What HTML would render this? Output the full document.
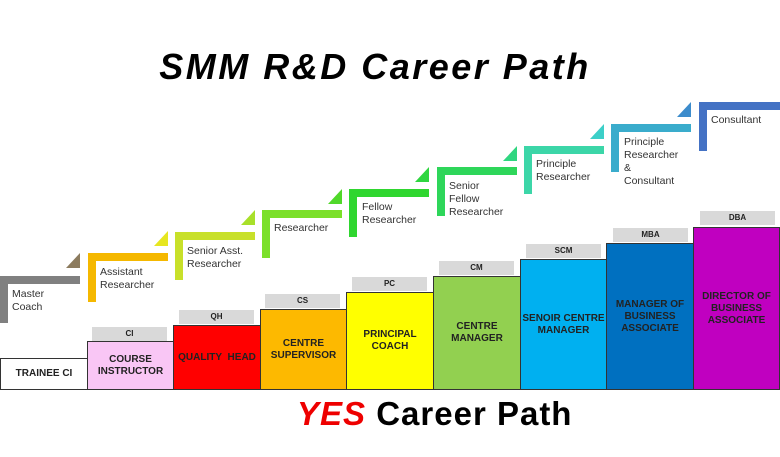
<!DOCTYPE html>
<html><head><style>
body{margin:0;width:780px;height:457px;background:#fff;position:relative;overflow:hidden;font-family:"Liberation Sans",sans-serif}
.a{position:absolute}
.bar{position:absolute;bottom:67px;border:1px solid #333;box-sizing:border-box;display:flex;align-items:center;justify-content:center;text-align:center;font-weight:bold;font-size:10px;line-height:12px;color:#222}
.lab{position:absolute;height:14px;background:#d9d9d9;font-size:8px;font-weight:bold;text-align:center;line-height:14px;color:#222}
.st{position:absolute;font-size:10.5px;line-height:13px;color:#333}
.tri{position:absolute;width:0;height:0;border-left:14px solid transparent;border-bottom:15px solid}
</style></head><body>
<div class="a" style="left:0;top:46px;width:750px;text-align:center;font-size:36px;letter-spacing:2.5px;font-weight:bold;font-style:italic">SMM R&amp;D Career Path</div>
<div class="a" style="left:297px;top:395px;font-size:33px;letter-spacing:1px;font-weight:bold"><span style="color:#e00;font-style:italic">YES</span> Career Path</div>

<div class="bar" style="left:0;width:88px;top:358px;background:#fff">TRAINEE CI</div>
<div class="bar" style="left:87px;width:87px;top:341px;background:#f9c6f5">COURSE<br>INSTRUCTOR</div>
<div class="bar" style="left:173px;width:88px;top:325px;background:#f00">QUALITY&nbsp; HEAD</div>
<div class="bar" style="left:260px;width:87px;top:309px;background:#fdb900">CENTRE<br>SUPERVISOR</div>
<div class="bar" style="left:346px;width:88px;top:292px;background:#ff0">PRINCIPAL<br>COACH</div>
<div class="bar" style="left:433px;width:88px;top:276px;background:#92d050">CENTRE<br>MANAGER</div>
<div class="bar" style="left:520px;width:87px;top:259px;background:#00b0f0">SENOIR CENTRE<br>MANAGER</div>
<div class="bar" style="left:606px;width:88px;top:243px;background:#0070c0">MANAGER OF<br>BUSINESS<br>ASSOCIATE</div>
<div class="bar" style="left:693px;width:87px;top:227px;background:#c000c0">DIRECTOR OF<br>BUSINESS<br>ASSOCIATE</div>

<div class="lab" style="left:92px;width:75px;top:327px">CI</div>
<div class="lab" style="left:179px;width:75px;top:310px">QH</div>
<div class="lab" style="left:265px;width:75px;top:294px">CS</div>
<div class="lab" style="left:352px;width:75px;top:277px">PC</div>
<div class="lab" style="left:439px;width:75px;top:261px">CM</div>
<div class="lab" style="left:526px;width:75px;top:244px">SCM</div>
<div class="lab" style="left:613px;width:75px;top:228px">MBA</div>
<div class="lab" style="left:700px;width:75px;top:211px">DBA</div>

<div class="a" style="left:0;top:276px;width:80px;height:8px;background:#808080"></div>
<div class="a" style="left:0;top:276px;width:8px;height:47px;background:#808080"></div>
<div class="st" style="left:12px;top:288px">Master<br>Coach</div>
<div class="tri" style="left:66px;top:253px;border-bottom-color:#8c7b5e"></div>

<div class="a" style="left:88px;top:253px;width:80px;height:8px;background:#f5b800"></div>
<div class="a" style="left:88px;top:253px;width:8px;height:49px;background:#f5b800"></div>
<div class="st" style="left:100px;top:266px">Assistant<br>Researcher</div>
<div class="tri" style="left:154px;top:231px;border-bottom-color:#e6e620"></div>

<div class="a" style="left:175px;top:232px;width:80px;height:8px;background:#c8e02a"></div>
<div class="a" style="left:175px;top:232px;width:8px;height:48px;background:#c8e02a"></div>
<div class="st" style="left:187px;top:245px">Senior Asst.<br>Researcher</div>
<div class="tri" style="left:241px;top:210px;border-bottom-color:#a8e02a"></div>

<div class="a" style="left:262px;top:210px;width:80px;height:8px;background:#7be02a"></div>
<div class="a" style="left:262px;top:210px;width:8px;height:48px;background:#7be02a"></div>
<div class="st" style="left:274px;top:222px">Researcher</div>
<div class="tri" style="left:328px;top:189px;border-bottom-color:#50d82a"></div>

<div class="a" style="left:349px;top:189px;width:80px;height:8px;background:#2fd62f"></div>
<div class="a" style="left:349px;top:189px;width:8px;height:48px;background:#2fd62f"></div>
<div class="st" style="left:362px;top:201px">Fellow<br>Researcher</div>
<div class="tri" style="left:415px;top:167px;border-bottom-color:#2fd640"></div>

<div class="a" style="left:437px;top:167px;width:80px;height:8px;background:#2ed65a"></div>
<div class="a" style="left:437px;top:167px;width:8px;height:49px;background:#2ed65a"></div>
<div class="st" style="left:449px;top:180px">Senior<br>Fellow<br>Researcher</div>
<div class="tri" style="left:503px;top:146px;border-bottom-color:#30d680"></div>

<div class="a" style="left:524px;top:146px;width:80px;height:8px;background:#3cd6a8"></div>
<div class="a" style="left:524px;top:146px;width:8px;height:48px;background:#3cd6a8"></div>
<div class="st" style="left:536px;top:158px">Principle<br>Researcher</div>
<div class="tri" style="left:590px;top:124px;border-bottom-color:#3ccfc8"></div>

<div class="a" style="left:611px;top:124px;width:80px;height:8px;background:#3aaccc"></div>
<div class="a" style="left:611px;top:124px;width:8px;height:48px;background:#3aaccc"></div>
<div class="st" style="left:624px;top:136px">Principle<br>Researcher<br>&amp;<br>Consultant</div>
<div class="tri" style="left:677px;top:102px;border-bottom-color:#3c8ccc"></div>

<div class="a" style="left:699px;top:102px;width:81px;height:8px;background:#4472c4"></div>
<div class="a" style="left:699px;top:102px;width:8px;height:49px;background:#4472c4"></div>
<div class="st" style="left:711px;top:114px">Consultant</div>
</body></html>
